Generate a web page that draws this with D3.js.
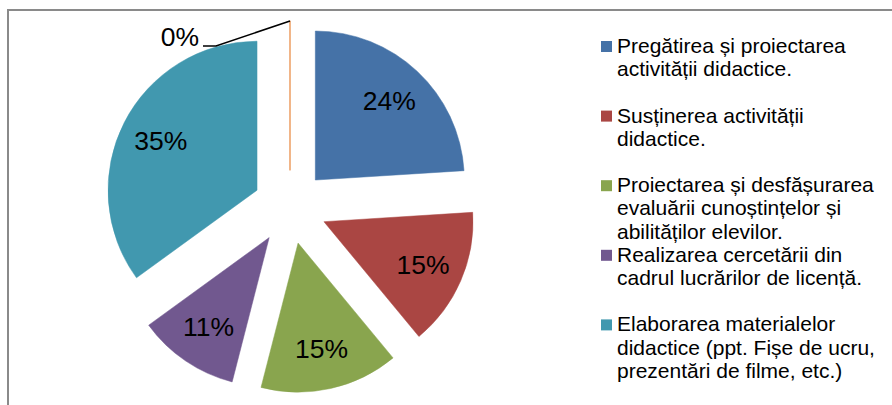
<!DOCTYPE html>
<html>
<head>
<meta charset="utf-8">
<script src="https://cdn.jsdelivr.net/npm/d3@7"></script>
<style>
  html, body { margin: 0; padding: 0; background: #fff; }
  svg { display: block; }
  text { font-family: "Liberation Sans", Arial, sans-serif; fill: #000; }
</style>
</head>
<body>
<div id="chart"></div>
<script>
// Share of activities (percent), clockwise from 12 o'clock
const categories = [
  "Pregătirea și proiectarea activității didactice.",
  "Susținerea activității didactice.",
  "Proiectarea și desfășurarea evaluării cunoștințelor și abilităților elevilor.",
  "Realizarea cercetării din cadrul lucrărilor de licență.",
  "Elaborarea materialelor didactice (ppt. Fișe de ucru, prezentări de filme, etc.)",
  ""
];
const values = [24, 15, 15, 11, 35, 0];
const colors = ["#4572A7", "#AA4643", "#89A54E", "#71588F", "#4198AF", "#E8853B"];

// Legend text, wrapped as it appears in the legend box
const legendLines = [
  ["Pregătirea și proiectarea", "activității didactice."],
  ["Susținerea activității", "didactice."],
  ["Proiectarea și desfășurarea", "evaluării cunoștințelor și", "abilităților elevilor."],
  ["Realizarea cercetării din", "cadrul lucrărilor de licență."],
  ["Elaborarea materialelor", "didactice (ppt. Fișe de ucru,", "prezentări de filme, etc.)"]
];

const W = 892, H = 405;
const cx = 290, cy = 207, r = 149, explode = 37;

const svg = d3.select("#chart").append("svg")
  .attr("width", W).attr("height", H);

svg.append("rect").attr("width", W).attr("height", H).attr("fill", "#fff");

// chart area frame (continues past the right and bottom edges)
svg.append("rect")
  .attr("x", 8).attr("y", 10)
  .attr("width", W + 20).attr("height", H + 20)
  .attr("fill", "none")
  .attr("stroke", "#8a8a8a")
  .attr("stroke-width", 2);

const pie = d3.pie().sort(null).value(d => d)
  .startAngle(0).endAngle(2 * Math.PI);
const arcs = pie(values);
const arc = d3.arc().innerRadius(0).outerRadius(r);
const labelArc = d3.arc().innerRadius(r * 0.725).outerRadius(r * 0.725);

const mid = d => (d.startAngle + d.endAngle) / 2;
const offset = d => [Math.sin(mid(d)) * explode, -Math.cos(mid(d)) * explode];

const slices = svg.append("g").attr("transform", `translate(${cx},${cy})`)
  .selectAll("g.slice").data(arcs).join("g")
  .attr("class", "slice")
  .attr("transform", d => `translate(${offset(d)[0]},${offset(d)[1]})`);

slices.append("path")
  .attr("d", arc)
  .attr("fill", (d, i) => colors[i])
  .attr("stroke", (d, i) => colors[i])
  .attr("stroke-width", (d) => d.value === 0 ? 1.2 : 0.5)
  .attr("stroke-linejoin", "round");

// value labels inside the non-empty slices
slices.filter(d => d.value > 0).append("text")
  .attr("x", d => labelArc.centroid(d)[0])
  .attr("y", d => labelArc.centroid(d)[1])
  .attr("text-anchor", "middle")
  .attr("dominant-baseline", "central")
  .attr("font-size", 26.5)
  .text(d => d.value + "%");

// empty slice: label outside with a leader line
slices.filter(d => d.value === 0).each(function(d) {
  const g = d3.select(this);
  const a = mid(d);
  const outer = [Math.sin(a) * r, -Math.cos(a) * r];
  const elbow = [outer[0] - 74, outer[1] + 25];
  const end = [elbow[0] - 13, elbow[1]];
  g.append("path")
    .attr("d", d3.line()([outer, elbow, end]))
    .attr("fill", "none")
    .attr("stroke", "#000")
    .attr("stroke-width", 1.6);
  g.append("text")
    .attr("x", end[0] - 4)
    .attr("y", end[1])
    .attr("text-anchor", "end")
    .attr("font-size", 26.5)
    .text(d.value + "%");
});

// legend
const legendX = 601, legendY0 = 53, entryStep = 69.6, lineStep = 23.3;
const legend = svg.append("g")
  .selectAll("g").data(legendLines).join("g")
  .attr("transform", (d, i) => `translate(${legendX},${legendY0 + i * entryStep})`);

legend.append("rect")
  .attr("x", 0).attr("y", -12)
  .attr("width", 11).attr("height", 11)
  .attr("fill", (d, i) => colors[i]);

legend.append("text")
  .attr("x", 16)
  .attr("font-size", 21)
  .selectAll("tspan").data(d => d).join("tspan")
  .attr("x", 16)
  .attr("y", (d, j) => j * lineStep)
  .text(d => d);
</script>
</body>
</html>
